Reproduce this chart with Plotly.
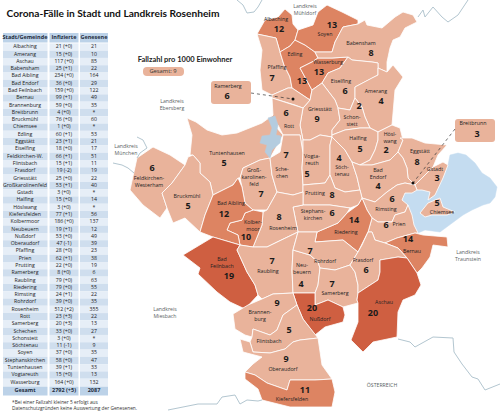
import plotly.graph_objects as go

TITLE = "Corona-Fälle in Stadt und Landkreis Rosenheim"
LEGEND_TITLE = "Fallzahl pro 1000 Einwohner"
FONT = "Open Sans"
HEAD_FONT = "Lato"

# table
header = ["Stadt/Gemeinde", "Infizierte", "Genesene"]
gemeinden = ["Albaching", "Amerang", "Aschau", "Babensham", "Bad Aibling", "Bad Endorf", "Bad Feilnbach", "Bernau",
             "Brannenburg", "Breitbrunn", "Bruckmühl", "Chiemsee", "Edling", "Eggstätt", "Eiselfing", "Feldkirchen-W.",
             "Flintsbach", "Frasdorf", "Griesstätt", "Großkarolinenfeld", "Gstadt", "Halfing", "Höslwang",
             "Kiefersfelden", "Kolbermoor", "Neubeuern", "Nußdorf", "Oberaudorf", "Pfaffing", "Prien", "Prutting",
             "Ramerberg", "Raubling", "Riedering", "Rimsting", "Rohrdorf", "Rosenheim", "Rott", "Samerberg", "Schechen",
             "Schonstett", "Söchtenau", "Soyen", "Stephanskirchen", "Tuntenhausen", "Vogtareuth", "Wasserburg"]
infizierte = ["21 (+0)", "15 (+0)", "117 (+0)", "25 (+1)", "234 (+0)", "36 (+0)", "159 (+0)", "99 (+1)", "59 (+0)",
              "4 (+0)", "76 (+0)", "1 (+0)", "60 (+1)", "23 (+1)", "18 (+0)", "66 (+1)", "15 (+1)", "19 (-2)",
              "25 (+0)", "53 (+1)", "3 (+0)", "15 (+0)", "3 (+0)", "77 (+1)", "186 (+0)", "19 (+1)", "53 (+0)",
              "47 (-1)", "28 (+0)", "62 (+1)", "22 (+0)", "8 (+0)", "79 (+0)", "79 (+0)", "24 (+1)", "39 (+0)",
              "512 (+2)", "23 (+3)", "20 (+3)", "33 (+0)", "3 (+0)", "11 (-1)", "37 (+0)", "58 (+0)", "39 (+1)",
              "15 (+0)", "164 (+0)"]
genesene = ["21", "10", "85", "22", "164", "29", "122", "49", "35", "*", "60", "*", "53", "21", "17", "51", "11", "19",
            "22", "40", "*", "14", "*", "56", "137", "12", "49", "39", "23", "38", "19", "6", "63", "55", "22", "35",
            "355", "22", "13", "27", "*", "9", "35", "47", "33", "13", "132"]
gesamt = ["Gesamt", "2792 (+5)", "2087"]
footnote = "*Bei einer Fallzahl kleiner 5 erfolgt aus<br>Datenschutzgründen keine Auswertung der Genesenen."

# map: Gemeinde, Fallzahl, outline
fallzahl = {"Albaching": 12, "Pfaffing": 7, "Edling": 13, "Soyen": 13, "Wasserburg": 13, "Babensham": 8,
            "Eiselfing": 6, "Amerang": 4, "Griesstätt": 9, "Schonstett": 2, "Ramerberg": 6, "Rott": 6,
            "Tuntenhausen": 5, "Feldkirchen": 6, "Bruckmühl": 5, "Großkarolinenfeld": 7, "Schechen": 7,
            "Vogtareuth": 5, "Söchtenau": 4, "Halfing": 5, "Höslwang": 2, "Eggstätt": 8, "Gstadt": 3,
            "Bad Endorf": 4, "Rimsting": 6, "Prien": 6, "Bernau": 14, "Riedering": 14, "Prutting": 8,
            "Stephanskirchen": 6, "Rosenheim": 8, "Kolbermoor": 10, "Bad Aibling": 12, "Bad Feilnbach": 19,
            "Raubling": 7, "Neubeuern": 4, "Rohrdorf": 7, "Samerberg": 7, "Frasdorf": 6, "Aschau": 20, "Nußdorf": 20,
            "Brannenburg": 9, "Flintsbach": 5, "Oberaudorf": 9, "Kiefersfelden": 11, "Chiemsee": 5}
outlines = {
    "Albaching": [(257, 34), (265, 20), (278, 17), (285, 9), (292, 15), (293, 24), (298, 30), (295, 40), (290, 46), (280, 52), (276, 38), (265, 36)],
    "Pfaffing": [(257, 34), (265, 36), (276, 38), (280, 52), (284, 65), (290, 77), (292, 88), (288, 88), (272, 95), (262, 90), (260, 70), (262, 50)],
    "Edling": [(280, 52), (290, 46), (295, 40), (305, 45), (315, 52), (318, 58), (312, 62), (300, 68), (312, 90), (310, 100), (292, 88), (290, 77), (284, 65)],
    "Soyen": [(298, 30), (304, 28), (313, 25), (318, 12), (327, 5), (342, 12), (358, 20), (358, 24), (343, 27), (335, 42), (332, 52), (315, 52), (305, 45), (295, 40)],
    "Wasserburg": [(318, 58), (332, 58), (348, 57), (340, 68), (328, 73), (322, 83), (312, 90), (300, 68), (312, 62)],
    "Babensham": [(358, 24), (365, 20), (367, 25), (382, 28), (395, 17), (403, 12), (413, 15), (417, 22), (405, 28), (400, 37), (393, 40), (390, 48), (387, 62), (387, 72), (378, 68), (378, 63), (372, 62), (352, 60), (348, 57), (332, 58), (318, 58), (315, 52), (332, 52), (335, 42), (343, 27)],
    "Eiselfing": [(348, 57), (352, 60), (372, 62), (378, 63), (378, 75), (372, 78), (355, 87), (355, 98), (350, 110), (338, 108), (335, 100), (322, 83), (328, 73), (340, 68)],
    "Amerang": [(378, 68), (387, 72), (393, 65), (403, 77), (395, 90), (393, 110), (392, 125), (378, 132), (370, 128), (365, 117), (362, 107), (355, 98), (355, 87), (372, 78), (378, 75)],
    "Griesstätt": [(310, 100), (312, 90), (322, 83), (335, 100), (338, 108), (340, 120), (332, 130), (332, 137), (320, 135), (310, 140), (303, 140), (300, 125), (303, 108)],
    "Schonstett": [(338, 108), (350, 110), (355, 98), (362, 107), (365, 117), (370, 128), (360, 128), (345, 130), (332, 135), (332, 130), (340, 120)],
    "Ramerberg": [(272, 95), (288, 88), (292, 88), (310, 100), (303, 108), (295, 105), (272, 98)],
    "Rott": [(272, 98), (295, 105), (303, 108), (300, 125), (303, 140), (303, 153), (300, 135), (283, 135), (278, 125), (268, 118), (273, 115)],
    "Tuntenhausen": [(187, 118), (196, 122), (207, 130), (222, 135), (237, 133), (250, 128), (262, 123), (273, 115), (268, 118), (283, 135), (270, 158), (260, 160), (243, 168), (240, 178), (238, 178), (233, 185), (213, 195), (210, 182), (200, 173), (200, 163), (193, 155), (190, 155), (192, 135)],
    "Feldkirchen": [(130, 190), (137, 158), (153, 147), (170, 155), (185, 165), (172, 183), (162, 193), (167, 208), (160, 218), (143, 205)],
    "Bruckmühl": [(185, 165), (188, 157), (193, 155), (200, 163), (200, 173), (210, 182), (213, 195), (205, 215), (200, 232), (185, 218), (173, 223), (167, 208), (162, 193), (172, 183)],
    "Großkarolinenfeld": [(243, 168), (260, 160), (270, 158), (272, 175), (277, 192), (267, 210), (253, 210), (245, 203), (242, 187), (240, 178)],
    "Schechen": [(270, 158), (280, 152), (283, 135), (300, 135), (303, 153), (302, 168), (303, 185), (303, 192), (293, 195), (277, 192), (272, 175)],
    "Vogtareuth": [(303, 140), (310, 140), (320, 135), (332, 137), (330, 145), (330, 175), (325, 183), (303, 185), (302, 168), (303, 153)],
    "Söchtenau": [(332, 137), (345, 150), (352, 162), (357, 177), (360, 190), (345, 192), (335, 188), (330, 175), (330, 145)],
    "Halfing": [(332, 135), (345, 130), (360, 128), (370, 128), (378, 132), (378, 140), (375, 150), (370, 160), (360, 165), (352, 162), (345, 150), (332, 137)],
    "Höslwang": [(378, 132), (392, 125), (400, 128), (403, 140), (398, 152), (390, 160), (372, 165), (360, 165), (370, 160), (375, 150), (378, 140)],
    "Eggstätt": [(400, 138), (412, 138), (425, 143), (447, 145), (438, 155), (433, 167), (425, 175), (415, 185), (408, 178), (407, 168), (403, 158), (398, 152), (403, 140)],
    "Gstadt": [(433, 167), (443, 162), (448, 165), (443, 178), (435, 195), (428, 200), (430, 192), (422, 190), (417, 190), (415, 185), (425, 175)],
    "Bad Endorf": [(352, 162), (360, 165), (372, 165), (390, 160), (398, 152), (403, 158), (407, 168), (408, 178), (415, 185), (405, 183), (397, 185), (387, 192), (375, 202), (362, 198), (360, 190), (357, 177)],
    "Rimsting": [(375, 202), (387, 192), (397, 185), (405, 183), (415, 185), (417, 190), (412, 193), (405, 193), (402, 200), (408, 205), (405, 212), (395, 215), (392, 222), (378, 222), (372, 218), (367, 210), (362, 198)],
    "Prien": [(372, 218), (378, 222), (392, 222), (395, 215), (405, 212), (408, 205), (412, 215), (414, 225), (418, 233), (415, 233), (397, 238), (385, 243), (375, 240), (372, 232), (368, 232)],
    "Bernau": [(385, 243), (397, 238), (415, 233), (423, 235), (447, 237), (448, 247), (433, 245), (430, 257), (422, 268), (417, 273), (407, 258), (398, 248)],
    "Riedering": [(358, 205), (362, 198), (367, 210), (372, 218), (368, 232), (362, 245), (358, 252), (343, 240), (315, 242), (317, 232), (328, 227), (338, 223), (347, 213)],
    "Prutting": [(303, 185), (325, 183), (330, 175), (335, 188), (345, 192), (360, 190), (362, 198), (358, 205), (350, 208), (330, 205), (303, 205), (303, 192)],
    "Stephanskirchen": [(303, 205), (330, 205), (350, 208), (347, 213), (338, 223), (328, 227), (317, 232), (298, 232), (293, 207)],
    "Rosenheim": [(277, 192), (293, 195), (303, 192), (303, 205), (293, 207), (298, 232), (277, 242), (267, 247), (253, 247), (262, 225), (263, 212), (267, 210)],
    "Kolbermoor": [(230, 223), (242, 220), (245, 213), (253, 210), (263, 212), (262, 225), (253, 247), (240, 245), (238, 235), (227, 230)],
    "Bad Aibling": [(213, 195), (233, 185), (238, 178), (242, 187), (245, 203), (253, 210), (245, 213), (242, 220), (230, 223), (227, 230), (238, 235), (240, 245), (213, 237), (200, 232), (205, 215)],
    "Bad Feilnbach": [(213, 237), (240, 245), (237, 250), (247, 272), (255, 285), (258, 295), (245, 309), (230, 302), (217, 292), (198, 274), (200, 268), (183, 255)],
    "Raubling": [(240, 245), (253, 247), (267, 247), (277, 242), (298, 232), (293, 250), (292, 270), (293, 293), (273, 294), (262, 299), (258, 295), (255, 285), (247, 272), (237, 250)],
    "Neubeuern": [(293, 250), (310, 255), (318, 262), (320, 268), (318, 285), (315, 293), (293, 293), (292, 270)],
    "Rohrdorf": [(298, 232), (317, 232), (315, 242), (343, 240), (358, 252), (350, 265), (335, 270), (320, 268), (318, 262), (310, 255), (293, 250)],
    "Samerberg": [(320, 268), (335, 270), (350, 265), (355, 272), (358, 285), (358, 293), (357, 300), (358, 303), (343, 307), (328, 300), (315, 305), (315, 293), (318, 285)],
    "Frasdorf": [(358, 252), (362, 245), (368, 232), (372, 232), (375, 240), (385, 243), (398, 248), (407, 258), (398, 257), (380, 260), (380, 272), (378, 280), (358, 293), (358, 285), (355, 272), (350, 265)],
    "Aschau": [(380, 260), (398, 257), (407, 258), (417, 273), (421, 285), (415, 295), (403, 300), (398, 312), (397, 337), (373, 342), (363, 352), (351, 340), (358, 322), (358, 303), (357, 300), (358, 293), (378, 280), (380, 272)],
    "Nußdorf": [(293, 293), (315, 293), (315, 305), (328, 300), (343, 307), (345, 315), (343, 322), (325, 327), (315, 335), (303, 319), (297, 305)],
    "Brannenburg": [(262, 299), (273, 294), (293, 293), (297, 305), (283, 315), (277, 330), (270, 335), (253, 329), (252, 337), (245, 335), (235, 329), (233, 314), (248, 305)],
    "Flintsbach": [(252, 337), (253, 329), (270, 335), (277, 330), (283, 315), (297, 305), (303, 319), (315, 335), (318, 338), (300, 340), (293, 342), (285, 349), (270, 353), (253, 352), (250, 342)],
    "Oberaudorf": [(240, 339), (250, 342), (253, 352), (270, 353), (285, 349), (293, 342), (300, 340), (318, 338), (322, 365), (332, 379), (315, 380), (290, 380), (287, 390), (267, 383), (255, 375), (245, 372), (253, 364), (262, 357), (243, 352)],
    "Kiefersfelden": [(245, 372), (255, 375), (267, 383), (287, 390), (290, 380), (315, 380), (332, 379), (335, 392), (332, 407), (315, 407), (290, 407), (262, 400), (258, 389), (245, 379)],
    "Chiemsee": [(420, 213), (428, 203), (440, 198), (443, 207), (455, 212), (447, 215), (432, 215), (425, 217)],
}
lake_chiemsee = [(458, 153), (466, 155), (475, 163), (482, 173), (490, 178), (497, 187), (495, 197), (490, 203), (483, 205), (472, 210), (463, 215), (450, 225), (440, 232), (425, 230), (418, 233), (414, 225), (410, 215), (405, 205), (400, 195), (412, 190), (425, 190), (435, 190), (443, 178), (448, 165), (450, 155)]
lake_small = [(268, 118), (275, 116), (278, 125), (276, 135), (281, 136), (280, 143), (272, 150), (270, 158), (265, 152), (267, 145), (260, 143), (262, 136), (270, 135), (272, 128)]

borders = [
    [(237, 0), (243, 5), (247, 13), (254, 12), (258, 7), (262, 0)],
    [(418, 17), (423, 10), (425, 17), (433, 7), (442, 17), (448, 22), (458, 15), (468, 0)],
    [(113, 163), (122, 165), (128, 168), (134, 173)],
    [(137, 137), (143, 140), (147, 148), (140, 153), (137, 158)],
    [(168, 410), (183, 407), (198, 404), (217, 404), (222, 397), (235, 395), (240, 404), (247, 400), (258, 401), (262, 400)],
    [(398, 339), (410, 342), (415, 347), (433, 337), (453, 338), (454, 352), (462, 364), (472, 377), (478, 379), (485, 390), (500, 384)],
]

name_labels = [("Albaching", 276, 20), ("Soyen", 325, 35), ("Edling", 295, 55), ("Pfaffing", 277, 68), ("Babensham", 361, 44),
               ("Wasserburg", 328, 63), ("Eiselfing", 341, 82), ("Amerang", 376, 92), ("Griesstätt", 320, 110),
               ("Schon-<br>stett", 352, 121), ("Rott", 289, 127), ("Tuntenhausen", 227, 154),
               ("Feldkirchen-<br>Westerham", 149, 182), ("Bruckmühl", 187, 197), ("Groß-<br>karolinen-<br>feld", 254, 178),
               ("Sche-<br>chen", 282, 173), ("Vogta-<br>reuth", 312, 160), ("Bad Aibling", 231, 204),
               ("Kolber-<br>moor", 253, 226), ("Rosenheim", 283, 229), ("Bad<br>Feilnbach", 222, 263), ("Raubling", 268, 272),
               ("Stephans-<br>kirchen", 313, 215), ("Prutting", 315, 194), ("Söch-<br>tenau", 342, 171), ("Halfing", 358, 139),
               ("Hösl-<br>wang", 390, 138), ("Eggstätt", 420, 152), ("Gstadt", 435, 170), ("Bad<br>Endorf", 378, 174),
               ("Rimsting", 386, 210), ("Chiemsee", 442, 213), ("Prien", 399, 225), ("Bernau", 412, 252), ("Riedering", 346, 233),
               ("Frasdorf", 363, 261), ("Rohrdorf", 325, 262), ("Neu-<br>beuern", 302, 269), ("Samerberg", 335, 294),
               ("Aschau", 384, 303), ("Nußdorf", 320, 320), ("Brannen-<br>burg", 260, 316), ("Flintsbach", 269, 342),
               ("Oberaudorf", 283, 370), ("Kiefersfelden", 292, 400)]
number_labels = [("Albaching", 279, 30), ("Soyen", 332, 26), ("Edling", 302, 82), ("Pfaffing", 272, 79), ("Babensham", 371, 54),
                 ("Wasserburg", 319, 73), ("Eiselfing", 345, 92), ("Amerang", 381, 102), ("Griesstätt", 317, 120),
                 ("Schonstett", 359, 107), ("Rott", 286, 114), ("Tuntenhausen", 224, 164), ("Feldkirchen", 152, 169),
                 ("Bruckmühl", 188, 207), ("Großkarolinenfeld", 261, 195), ("Schechen", 286, 156), ("Vogtareuth", 307, 175),
                 ("Bad Aibling", 224, 215), ("Kolbermoor", 246, 238), ("Rosenheim", 279, 218), ("Bad Feilnbach", 229, 277),
                 ("Raubling", 272, 262), ("Stephanskirchen", 332, 214), ("Prutting", 332, 196), ("Söchtenau", 339, 159),
                 ("Halfing", 360, 150), ("Höslwang", 386, 151), ("Eggstätt", 417, 163), ("Gstadt", 437, 179),
                 ("Bad Endorf", 378, 187), ("Rimsting", 392, 200), ("Chiemsee", 437, 204), ("Prien", 386, 226),
                 ("Bernau", 408, 240), ("Riedering", 354, 221), ("Frasdorf", 366, 271), ("Rohrdorf", 310, 252),
                 ("Neubeuern", 301, 285), ("Samerberg", 332, 285), ("Aschau", 373, 314), ("Nußdorf", 312, 309),
                 ("Brannenburg", 277, 304), ("Flintsbach", 289, 331), ("Oberaudorf", 286, 360), ("Kiefersfelden", 305, 391)]
outside_labels = [("Landkreis<br>Mühldorf", 305, 10), ("Landkreis<br>Ebersberg", 172, 105), ("Landkreis<br>München", 126, 150),
                  ("Landkreis<br>Miesbach", 165, 313), ("Landkreis<br>Traunstein", 468, 256), ("ÖSTERREICH", 382, 386)]
callouts = [("Ramerberg", "6", 211, 81, 251, 104, 228, 87, 227, 97, 251, 93, 293, 99),
            ("Breitbrunn", "3", 455, 119, 495, 142, 473, 124, 477, 135, 455, 129, 413, 183)]


def fill_color(value):
    if value >= 19:
        return "#cf5f41"
    if value >= 10:
        return "#dd8462"
    return "#e9b39b"


def rounded_box(x0, y0, x1, y1, r=3):
    return (f"M{x0+r},{y0} L{x1-r},{y0} Q{x1},{y0} {x1},{y0+r} L{x1},{y1-r} Q{x1},{y1} {x1-r},{y1} "
            f"L{x0+r},{y1} Q{x0},{y1} {x0},{y1-r} L{x0},{y0+r} Q{x0},{y0} {x0+r},{y0} Z")


def add_poly(fig, points, fill, line="white", width=0.8):
    xs = [p[0] for p in points] + [points[0][0]]
    ys = [p[1] for p in points] + [points[0][1]]
    fig.add_trace(go.Scatter(x=xs, y=ys, mode="lines", fill="toself", fillcolor=fill,
                             line=dict(color=line, width=width), hoverinfo="skip"))


def add_text(fig, labels, size, color="#222222", bold=False, family=FONT):
    fig.add_trace(go.Scatter(x=[l[1] for l in labels], y=[l[2] for l in labels], mode="text",
                             text=[l[0] for l in labels], textposition="middle center",
                             textfont=dict(family=family, size=size, color=color, weight="bold" if bold else "normal"),
                             hoverinfo="skip"))


fig = go.Figure()
shapes = []

# table stripes
row_y = [47 + i * 7.29 for i in range(len(gemeinden))]
col_edges = [(3, 47.5), (49.5, 78.5), (80, 108)]
col_mid = [25, 64, 94]
for x0, x1 in col_edges:
    shapes.append(dict(type="rect", x0=x0, x1=x1, y0=33, y1=42.5, fillcolor="#bcd2e8", line_width=0, layer="below"))
    shapes.append(dict(type="rect", x0=x0, x1=x1, y0=386.5, y1=395.5, fillcolor="#bcd2e8", line_width=0, layer="below"))
    for i, y in enumerate(row_y):
        shapes.append(dict(type="rect", x0=x0, x1=x1, y0=y - 3.65, y1=y + 3.65, line_width=0, layer="below",
                           fillcolor="#e6eef7" if i % 2 == 0 else "#cfdeee"))

# map
add_poly(fig, lake_chiemsee, "#c4dcf0", line="#c4dcf0", width=0.5)
for name, points in outlines.items():
    add_poly(fig, points, fill_color(fallzahl[name]))
add_poly(fig, lake_small, "#b4ccdf", line="#b4ccdf", width=0.5)
for line in borders:
    fig.add_trace(go.Scatter(x=[p[0] for p in line], y=[p[1] for p in line], mode="lines",
                             line=dict(color="#b3c6d0", width=1), hoverinfo="skip"))

# legend and callouts
shapes.append(dict(type="path", path=rounded_box(143, 67, 184, 76, 4), fillcolor="#e9b39b", line_width=0, layer="below"))
for c in callouts:
    shapes.append(dict(type="path", path=rounded_box(c[2], c[3], c[4], c[5]), fillcolor="#e9b39b", line_width=0, layer="below"))
    fig.add_trace(go.Scatter(x=[c[10], c[12]], y=[c[11], c[13]], mode="lines", line=dict(color="#333333", width=0.7, dash="dot"),
                             hoverinfo="skip"))
    fig.add_trace(go.Scatter(x=[c[12]], y=[c[13]], mode="markers", marker=dict(color="#111111", size=3), hoverinfo="skip"))

add_text(fig, name_labels, 5.3)
add_text(fig, [(str(fallzahl[n]), x, y) for n, x, y in number_labels], 9, color="#1a1a1a", bold=True)
add_text(fig, outside_labels, 5.2, color="#5a5f63")
add_text(fig, [(c[0], c[6], c[7]) for c in callouts], 5.3)
add_text(fig, [(c[1], c[8], c[9]) for c in callouts], 9, color="#1a1a1a", bold=True)
add_text(fig, [("Gesamt: 9", 163, 71.5)], 5.8, color="#333333")
add_text(fig, [(LEGEND_TITLE, 185, 60.5)], 7.5, color="#222222", bold=True, family=HEAD_FONT)
add_text(fig, [(TITLE, 113, 14)], 10.2, color="#111111", bold=True, family=HEAD_FONT)

# table text
for mid, col in zip(col_mid, [gemeinden, infizierte, genesene]):
    add_text(fig, [(v, mid, y) for v, y in zip(col, row_y)], 5.2, color="#222222")
for mid, head, tot in zip(col_mid, header, gesamt):
    add_text(fig, [(head, mid, 37.8)], 5.5, color="#1f2d3d", bold=True)
    add_text(fig, [(tot, mid, 391)], 5.5, color="#1f2d3d", bold=True)
fig.add_annotation(x=10, y=405, xref="x", yref="y", text=footnote, showarrow=False, xanchor="left", yanchor="middle",
                   align="left", font=dict(family=FONT, size=4.8, color="#333333"))

fig.update_layout(
    width=500, height=412, margin=dict(l=0, r=0, t=0, b=0),
    paper_bgcolor="white", plot_bgcolor="white", showlegend=False, shapes=shapes,
    xaxis=dict(range=[0, 500], visible=False, fixedrange=True),
    yaxis=dict(range=[412, 0], visible=False, fixedrange=True),
)
fig.write_html("out.html", config=dict(displayModeBar=False), post_script="document.body.style.margin='0';")
